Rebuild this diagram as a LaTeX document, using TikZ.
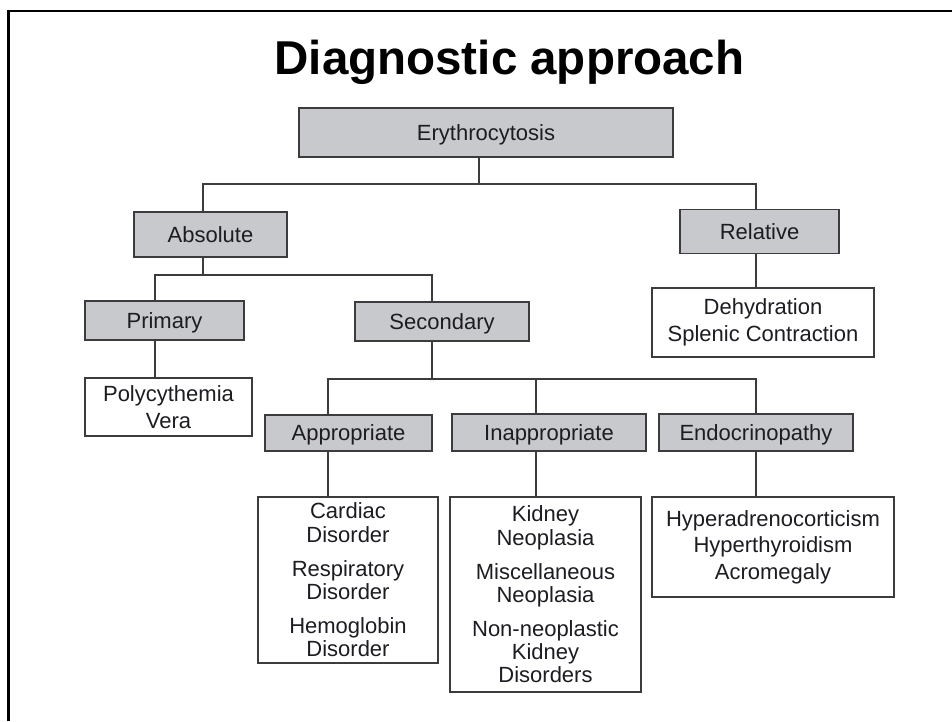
\documentclass[tikz,border=0pt]{standalone}
\usepackage{fontspec}
\setmainfont{Liberation Sans}
\definecolor{boxgray}{RGB}{200,201,204}
\definecolor{ln}{RGB}{60,60,62}
\definecolor{tx}{RGB}{28,28,34}
\begin{document}
\begin{tikzpicture}[x=1pt,y=-1pt,
  gbox/.style={draw=ln, line width=1.4pt, fill=boxgray, inner sep=0pt, text=tx,
    font=\fontsize{22}{26.7}\selectfont, text height=15pt, text depth=0pt},
  wbox/.style={draw=ln, line width=1.4pt, fill=white, inner sep=0pt, text=tx,
    font=\fontsize{22}{26.7}\selectfont, align=center},
  lbox/.style={wbox, font=\fontsize{22}{23.3}\selectfont},
  sz/.style 2 args={minimum width=#1pt, minimum height=#2pt},
  conn/.style={draw=ln, line width=1.3pt}]
\useasboundingbox (0,0) rectangle (952,721);
\fill[white] (0,0) rectangle (952,721);
% frame
\draw[line width=2.8pt, black, line join=miter] (8.3,721) -- (8.3,11) -- (952,11);
% title
\node[anchor=base, inner sep=0pt, font=\fontsize{47.5}{50}\selectfont\bfseries] (title) at (509.5,74) {Diagnostic approach};
% boxes
\node[gbox, sz={374}{49}] (ery) at (486,132.5) {Erythrocytosis};
\node[gbox, sz={153}{45}] (abs) at (210.5,234.5) {Absolute};
\node[gbox, sz={159}{44}] (rel) at (759.5,231.5) {Relative};
\node[gbox, sz={159}{39}] (prim) at (164.5,320.5) {Primary};
\node[gbox, sz={174}{39}] (sec) at (442,321.5) {Secondary};
\node[wbox, sz={167}{58}] (poly) at (168.5,407) {Polycythemia\\Vera};
\node[wbox, sz={222}{69}] (dehy) at (763,322.5) {Dehydration\\Splenic Contraction};
\node[gbox, sz={167}{36}] (appr) at (348.5,433) {Appropriate};
\node[gbox, sz={194}{37}] (inap) at (549,432.5) {Inappropriate};
\node[gbox, sz={194}{37}] (endo) at (756,432.5) {Endocrinopathy};
\node[lbox, sz={180}{166}] (applist) at (348,580) {Cardiac\\Disorder\\[10.7pt]Respiratory\\Disorder\\[10.7pt]Hemoglobin\\Disorder};
\node[lbox, sz={191}{195}] (inaplist) at (545.5,594.5) {Kidney\\Neoplasia\\[10.7pt]Miscellaneous\\Neoplasia\\[10.7pt]Non-neoplastic\\Kidney\\Disorders};
\node[wbox, sz={242}{100}] (endolist) at (773,547) {Hyperadrenocorticism\\Hyperthyroidism\\Acromegaly};
% connector points
\coordinate (em) at (479,184);
\coordinate (busA) at (203,184);
\coordinate (busB) at (756,184);
\coordinate (am) at (203,275);
\coordinate (busC) at (155,275);
\coordinate (busD) at (432,275);
\coordinate (sm) at (432,379);
\coordinate (busE) at (328,379);
\coordinate (busF) at (756,379);
\coordinate (im) at (536,379);
% connectors
\draw[conn] (ery.south -| em) -- (em);
\draw[conn] (abs.north -| busA) -- (busA) -- (busB) -- (rel.north -| busB);
\draw[conn] (rel.south -| busB) -- (dehy.north -| busB);
\draw[conn] (abs.south -| am) -- (am);
\draw[conn] (prim.north -| busC) -- (busC) -- (busD) -- (sec.north -| busD);
\draw[conn] (prim.south -| busC) -- (poly.north -| busC);
\draw[conn] (sec.south -| sm) -- (sm);
\draw[conn] (appr.north -| busE) -- (busE) -- (busF) -- (endo.north -| busF);
\draw[conn] (inap.north -| im) -- (im);
\draw[conn] (appr.south -| busE) -- (applist.north -| busE);
\draw[conn] (inap.south -| im) -- (inaplist.north -| im);
\draw[conn] (endo.south -| busF) -- (endolist.north -| busF);
\end{tikzpicture}
\end{document}
